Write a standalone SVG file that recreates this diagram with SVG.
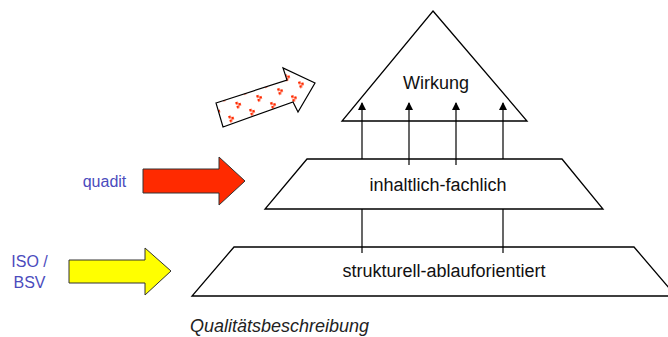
<svg xmlns="http://www.w3.org/2000/svg" width="668" height="337" viewBox="0 0 668 337">
<style>
.shape{fill:none;stroke:#000;stroke-width:1.3}
.conn{stroke:#000;stroke-width:1.2;fill:none}
.lbl{font-family:"Liberation Sans",Arial,sans-serif;font-size:18px;fill:#111;text-anchor:middle}
.side{font-family:"Liberation Sans",Arial,sans-serif;font-size:16px;fill:#4b4bbd;text-anchor:middle}
.cap{font-family:"Liberation Sans",Arial,sans-serif;font-size:18px;font-style:italic;fill:#222}
</style>
<defs>
<marker id="ah" markerWidth="8" markerHeight="10" refX="7" refY="5" orient="auto" markerUnits="userSpaceOnUse">
<path d="M0,1 L8,5 L0,9 Z" fill="#000"/>
</marker>
<pattern id="dots" width="22" height="22" patternUnits="userSpaceOnUse" patternTransform="rotate(-18) translate(3,3)">
<rect x="2" y="2" width="2.5" height="2.5" fill="#ff2a00"/>
<rect x="4.5" y="4" width="2.5" height="2.5" fill="#ff2a00"/>
<rect x="2" y="6" width="2.5" height="2.5" fill="#ff2a00"/>
<rect x="13" y="13" width="2.5" height="2.5" fill="#ff2a00"/>
<rect x="15.5" y="15" width="2.5" height="2.5" fill="#ff2a00"/>
<rect x="13" y="17" width="2.5" height="2.5" fill="#ff2a00"/>
</pattern>
</defs>
<g id="connectors">
<line class="conn" x1="362" y1="159" x2="362" y2="103" marker-end="url(#ah)"/>
<line class="conn" x1="409" y1="165" x2="409" y2="103" marker-end="url(#ah)"/>
<line class="conn" x1="456" y1="165" x2="456" y2="103" marker-end="url(#ah)"/>
<line class="conn" x1="503" y1="159" x2="503" y2="103" marker-end="url(#ah)"/>
<line class="conn" x1="362" y1="209" x2="362" y2="253"/>
<line class="conn" x1="503" y1="209" x2="503" y2="253"/>
</g>
<g id="wirkung">
<polygon class="shape" points="433,11 527,121 342,121"/>
<text class="lbl" x="436" y="89">Wirkung</text>
</g>
<g id="inhaltlich">
<polygon class="shape" points="307,159 562,159 603,209 265,209"/>
<text class="lbl" x="438" y="191">inhaltlich-fachlich</text>
</g>
<g id="strukturell">
<polygon class="shape" points="234,247 634,247 676,296 192,296"/>
<text class="lbl" x="444" y="277">strukturell-ablauforientiert</text>
</g>
<g id="pattern-arrow">
<polygon points="216,103 287,80 283,68 315,83 298,112 293,102 223,127" fill="#fff" stroke="none"/>
<polygon points="216,103 287,80 283,68 315,83 298,112 293,102 223,127" fill="url(#dots)" stroke="#000" stroke-width="1.2"/>
</g>
<g id="quadit">
<polygon points="143,169 219,169 219,157 245,181 219,205 219,193 143,193" fill="#ff2a00" stroke="#333" stroke-width="1"/>
<text class="side" x="104.5" y="187">quadit</text>
</g>
<g id="iso">
<polygon points="69,260 145,260 145,248 171,271 145,295 145,283 69,283" fill="#ffff00" stroke="#333" stroke-width="1"/>
<text class="side" x="29.5" y="267">ISO /</text>
<text class="side" x="29.5" y="288">BSV</text>
</g>
<text class="cap" x="190" y="332">Qualitätsbeschreibung</text>
</svg>
